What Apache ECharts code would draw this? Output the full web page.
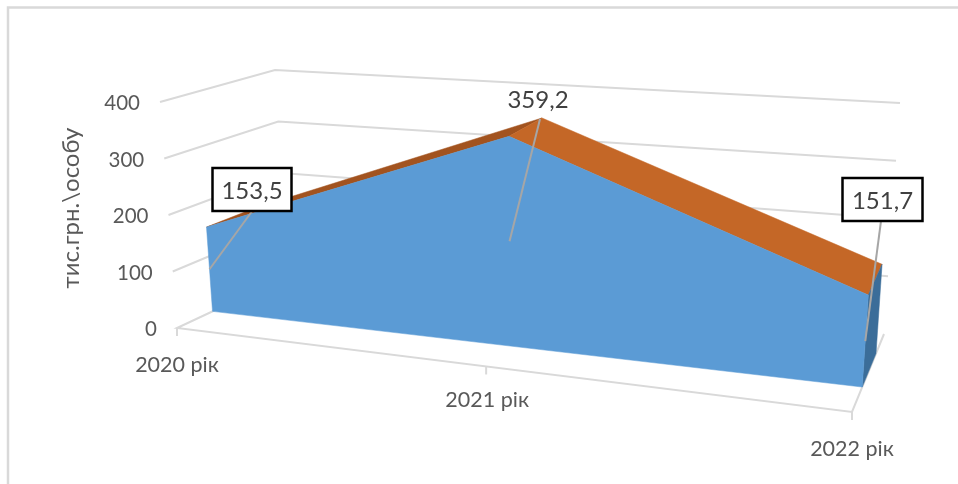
<!DOCTYPE html>
<html>
<head>
<meta charset="utf-8">
<style>html,body{margin:0;padding:0;background:#fff}#chart{width:958px;height:484px}</style>
<script src="https://cdn.jsdelivr.net/npm/echarts@6/dist/echarts.min.js"></script>
</head>
<body>
<div id="chart"></div>
<script>
// Income per person by year, drawn as a 3D-style area block.
const categories = ['2020 рік', '2021 рік', '2022 рік'];
const values = [153.5, 359.2, 151.7];
const valueLabels = ['153,5', '359,2', '151,7'];
const yTicks = [0, 100, 200, 300, 400];
const yTitle = 'тис.грн.\\особу';

// Plain-plot rectangle used by the hidden axes.
const GRID = { left: 177, top: 102, width: 675, height: 226 };

// Corners of the box the plain plot is projected into: [x, y].
const BOX = {
  frontLeft0: [177, 328], frontRight0: [852, 412], backLeft0: [288, 276], backRight0: [884, 334],
  frontLeft4: [160, 102], frontRight4: [868, 164], backLeft4: [275, 70], backRight4: [900, 103]
};
const FORESHORTEN = 0.845;   // compresses the far (left) half of the width
const BOW = 5;               // slight lift of the front plane around mid-width
const DEPTH_FRONT = 0.32;    // depth of the area's front face
const DEPTH_BACK = 0.75;     // depth of the area's rear edge

// Label placement: box centres, leader ends and whether a box is drawn.
const labelStyle = [
  { cx: 252, cy: 189, endX: 253, endY: 210, box: true, w: 79, h: 43 },
  { cx: 538, cy: 98, endX: 540, endY: 119, box: false },
  { cx: 882.5, cy: 199, endX: 881, endY: 221, box: true, w: 80, h: 43 }
];

const GRID_COLOR = '#d9d9d9';
const TEXT_COLOR = '#595959';
const LABEL_COLOR = '#404040';
const FONT = '"Lato", "Open Sans", sans-serif';

const mix = (a, b, t) => a + (b - a) * t;
const mixPt = (a, b, t) => [mix(a[0], b[0], t), mix(a[1], b[1], t)];

// Maps a pixel from the plain plot (at a given depth 0..1) into the box.
function project(pt, depth) {
  const raw = (pt[0] - GRID.left) / GRID.width;
  const u = FORESHORTEN * raw / (1 + (FORESHORTEN - 1) * raw);
  const v = (GRID.top + GRID.height - pt[1]) / GRID.height;
  const base = mixPt(mixPt(BOX.frontLeft0, BOX.frontRight0, u), mixPt(BOX.backLeft0, BOX.backRight0, u), depth);
  const top = mixPt(mixPt(BOX.frontLeft4, BOX.frontRight4, u), mixPt(BOX.backLeft4, BOX.backRight4, u), depth);
  const p = mixPt(base, top, v);
  p[1] -= BOW * (1 - depth) * 4 * u * (1 - u) * v;
  return p;
}

const at = (api, idx, value, depth) => project(api.coord([idx, value]), depth);
const lineEl = (points, color, width) => ({
  type: 'polyline', shape: { points }, style: { stroke: color, lineWidth: width, fill: null, lineJoin: 'miter' }
});
const polyEl = (points, color) => ({
  type: 'polygon', shape: { points }, style: { fill: color, stroke: color, lineWidth: 0.5 }
});
const textEl = (text, x, y, align, size, color) => ({
  type: 'text',
  style: { text, x, y, textAlign: align, textVerticalAlign: 'middle', fontFamily: FONT, fontSize: size, fill: color }
});

// Side and back wall gridlines with the value labels on the front edge.
function renderWalls(params, api) {
  const tick = api.value(1);
  const last = categories.length - 1;
  const front = at(api, 0, tick, 0);
  const children = [];
  if (tick > 0) {
    children.push(lineEl([front, at(api, 0, tick, 1), at(api, last, tick, 1)], GRID_COLOR, 2));
  }
  children.push(textEl(String(tick), front[0] - 20, front[1] + 1.5, 'right', 20.5, TEXT_COLOR));
  return { type: 'group', children };
}

// Floor outline, category ticks and category labels.
function renderFloor(params, api) {
  const i = params.dataIndex;
  const last = categories.length - 1;
  const p = at(api, i, 0, 0);
  const children = [lineEl([[p[0], p[1]], [p[0], p[1] + 8]], GRID_COLOR, 2)];
  if (i === 0) {
    children.push(lineEl([at(api, last, 0, 1), at(api, last, 0, 0), p, at(api, 0, 0, 1)], GRID_COLOR, 2));
  }
  const y = [37, 34, 37][i];
  children.push(textEl(categories[i], p[0] + (i === 1 ? 1 : 0), p[1] + y, 'center', 21.5, TEXT_COLOR));
  return { type: 'group', children };
}

// Sloped top faces between neighbouring years, plus the closing side face.
function renderTop(params, api) {
  const i = params.dataIndex;
  const children = [];
  const last = categories.length - 1;
  if (i < last) {
    const a = api.value(1, i), b = api.value(1, i + 1);
    children.push(polyEl([
      at(api, i, a, DEPTH_FRONT), at(api, i + 1, b, DEPTH_FRONT),
      at(api, i + 1, b, DEPTH_BACK), at(api, i, a, DEPTH_BACK)
    ], b > a ? '#a2531f' : '#c46727'));
  } else {
    const v = api.value(1, i);
    children.push(polyEl([
      at(api, i, v, DEPTH_FRONT), at(api, i, v, DEPTH_BACK),
      at(api, i, 0, DEPTH_BACK), at(api, i, 0, DEPTH_FRONT)
    ], '#3b6d99'));
  }
  return { type: 'group', children };
}

// Front face of the area, closed along the floor.
function renderFront(params, api) {
  if (params.dataIndex !== 0) return { type: 'group', children: [] };
  const last = categories.length - 1;
  const pts = [at(api, 0, 0, DEPTH_FRONT)];
  for (let j = 0; j <= last; j++) pts.push(at(api, j, api.value(1, j), DEPTH_FRONT));
  pts.push(at(api, last, 0, DEPTH_FRONT));
  return polyEl(pts, '#5b9bd5');
}

// Leader lines run from the middle of the front face to each value label.
function renderLabels(params, api) {
  const i = params.dataIndex;
  const s = labelStyle[i];
  const start = at(api, i, api.value(1) / 2, DEPTH_FRONT);
  const children = [lineEl([start, [s.endX, s.endY]], '#a6a6a6', 2)];
  if (s.box) {
    children.push({
      type: 'rect',
      shape: { x: s.cx - s.w / 2, y: s.cy - s.h / 2 + 0.5, width: s.w, height: s.h },
      style: { fill: '#fff', stroke: '#000', lineWidth: 2.5 }
    });
  }
  children.push(textEl(valueLabels[i], s.cx, s.cy + 2, 'center', 24, LABEL_COLOR));
  return { type: 'group', children };
}

const points = categories.map((c, i) => [i, values[i]]);
const customSeries = (name, data, renderItem) => ({
  type: 'custom', name, data, renderItem, silent: true, animation: false, encode: { x: 0, y: 1 }
});

const chart = echarts.init(document.getElementById('chart'), null, { renderer: 'canvas' });
chart.setOption({
  backgroundColor: '#fff',
  animation: false,
  grid: GRID,
  xAxis: { type: 'category', data: categories, boundaryGap: false, show: false },
  yAxis: { type: 'value', min: 0, max: 400, interval: 100, show: false },
  graphic: [
    { type: 'polyline', silent: true, shape: { points: [[8, 484], [8, 7.5], [958, 7.5]] },
      style: { stroke: GRID_COLOR, lineWidth: 2.5, fill: null } },
    { type: 'text', silent: true, rotation: Math.PI / 2, x: 71, y: 208,
      style: { text: yTitle, textAlign: 'center', textVerticalAlign: 'middle',
        fontFamily: FONT, fontSize: 24, fill: TEXT_COLOR } }
  ],
  series: [
    customSeries('walls', yTicks.map(t => [0, t]), renderWalls),
    customSeries('floor', points, renderFloor),
    customSeries('top', points, renderTop),
    customSeries('front', points, renderFront),
    customSeries('labels', points, renderLabels)
  ]
});
</script>
</body>
</html>
